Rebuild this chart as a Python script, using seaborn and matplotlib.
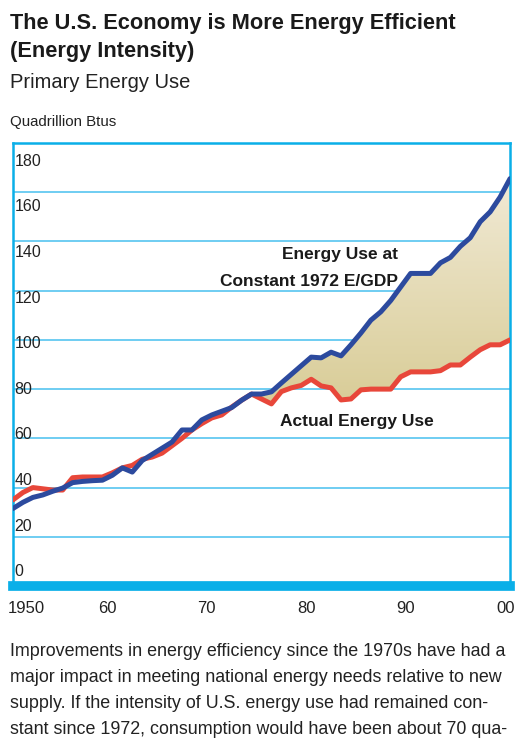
import numpy as np
import pandas as pd
import matplotlib
matplotlib.use("Agg")
import matplotlib.pyplot as plt
from matplotlib.path import Path
import matplotlib.transforms as mtransforms
import seaborn as sns

# years shown on the chart
years = list(range(1950, 2001))

# actual primary energy use (quadrillion Btu)
actual_use = [35, 38, 40, 39.5, 39, 39, 44, 44.3, 44.3, 44.3,
              46, 48, 49, 51.5, 52.4, 54, 57, 60, 63.4, 66,
              68.3, 69.5, 72.7, 75.5, 78, 76, 74, 79, 80.5, 81.5,
              84, 81.3, 80.5, 75.6, 76, 79.7, 80, 80, 80, 85,
              87, 87, 87, 87.5, 89.8, 89.8, 93, 96, 98, 98, 100]

# energy use at constant 1972 E/GDP
constant_use = [31.5, 34, 36, 37, 38.5, 39.8, 42, 42.5, 42.8, 43,
                45, 48, 46.3, 51, 53.5, 56, 58.5, 63.4, 63.4, 67.5,
                69.5, 71, 72.5, 75.5, 78, 78, 78.9, 82.5, 86, 89.5,
                93, 92.7, 95, 93.5, 98, 102.8, 108, 111.4, 116, 121.5,
                127, 127, 127, 131.3, 133.5, 138, 141.5, 148, 152, 158, 165.5]

y_ticks = [0, 20, 40, 60, 80, 100, 120, 140, 160, 180]
x_ticks = [1950, 1960, 1970, 1980, 1990, 2000]
x_labels = ["1950", "60", "70", "80", "90", "00"]

df = pd.DataFrame({"year": years, "actual": actual_use, "constant": constant_use})

sns.set_style("white")
font = ["Liberation Sans", "DejaVu Sans"]
plt.rcParams["font.family"] = font

CYAN = "#0aafe8"
GRID = "#6fcdf2"
RED = "#e8473a"
BLUE = "#2c4a9e"
INK = "#1a1a1a"

fig = plt.figure(figsize=(5.19, 7.47), dpi=100)
ax = fig.add_axes([0.025, 0.2155, 0.9577, 0.5931])

# shaded gap between the two curves, with a vertical gradient
poly = ax.fill_between(df["year"], df["actual"], df["constant"],
                       where=df["constant"] >= df["actual"], interpolate=True,
                       facecolor="none", edgecolor="none")
clip = Path.make_compound_path(*poly.get_paths())
grad = np.linspace(0, 1, 256).reshape(-1, 1)
cmap = matplotlib.colors.LinearSegmentedColormap.from_list("tan", ["#d9cd98", "#f2ebd8"])
img = ax.imshow(grad, cmap=cmap, aspect="auto", origin="lower",
                extent=[1950, 2000, 75, 170], zorder=1)
img.set_clip_path(clip, transform=ax.transData)

sns.lineplot(data=df, x="year", y="actual", color=RED, linewidth=3.6, ax=ax, zorder=3)
sns.lineplot(data=df, x="year", y="constant", color=BLUE, linewidth=3.6, ax=ax, zorder=4)

ax.set_xlim(1950, 2000)
ax.set_ylim(0, 180)
ax.set_yticks(y_ticks)
ax.set_yticklabels([])
ax.set_xticks(x_ticks)
ax.set_xticklabels([])
ax.yaxis.grid(True, color=GRID, linewidth=1.4)
ax.xaxis.grid(False)
ax.set_axisbelow(True)
ax.tick_params(axis="both", length=0)
ax.set_xlabel("")
ax.set_ylabel("")

for side in ["left", "top", "right"]:
    ax.spines[side].set_color(CYAN)
    ax.spines[side].set_linewidth(1.8)
ax.spines["bottom"].set_color(CYAN)
ax.spines["bottom"].set_linewidth(7)

# y labels sit inside the frame, on their own spacing
label_pos = np.linspace(0.959, 0.032, len(y_ticks))
for lab, yp in zip(y_ticks[::-1], label_pos):
    ax.text(0.003, yp, str(lab), transform=ax.transAxes, ha="left", va="center",
            fontsize=11.5, color="#222222")

# x labels below the thick base bar
xtrans = mtransforms.blended_transform_factory(ax.transData, ax.transAxes)
for i, (xv, lab) in enumerate(zip(x_ticks, x_labels)):
    ha = "left" if i == 0 else ("right" if i == len(x_ticks) - 1 else "center")
    xpos = xv - 0.5 if i == 0 else (xv + 0.5 if i == len(x_ticks) - 1 else xv - 0.5)
    ax.text(xpos, -0.05, lab, transform=xtrans, ha=ha, va="center",
            fontsize=12, color="#222222", clip_on=False)

ax.text(1988.7, 134.5, "Energy Use at", ha="right", va="center",
        fontsize=12.5, fontweight="bold", color=INK)
ax.text(1988.7, 123.6, "Constant 1972 E/GDP", ha="right", va="center",
        fontsize=12.5, fontweight="bold", color=INK)
ax.text(1976.9, 66.7, "Actual Energy Use", ha="left", va="center",
        fontsize=12.5, fontweight="bold", color=INK)

fig.text(0.019, 1 - 23 / 747, "The U.S. Economy is More Energy Efficient",
         ha="left", va="center", fontsize=15.7, fontweight="bold", color=INK)
fig.text(0.019, 1 - 51 / 747, "(Energy Intensity)",
         ha="left", va="center", fontsize=15.7, fontweight="bold", color=INK)
fig.text(0.019, 1 - 83 / 747, "Primary Energy Use", ha="left", va="center",
         fontsize=14.5, color="#222222")
fig.text(0.019, 1 - 122 / 747, "Quadrillion Btus", ha="left", va="center",
         fontsize=10.8, color="#222222")

para = ["Improvements in energy efficiency since the 1970s have had a",
        "major impact in meeting national energy needs relative to new",
        "supply. If the intensity of U.S. energy use had remained con-",
        "stant since 1972, consumption would have been about 70 qua-"]
for i, line in enumerate(para):
    fig.text(0.019, 1 - (652 + 26 * i) / 747, line, ha="left", va="center",
             fontsize=12.9, color="#222222")

fig.savefig("out.png", dpi=100)
